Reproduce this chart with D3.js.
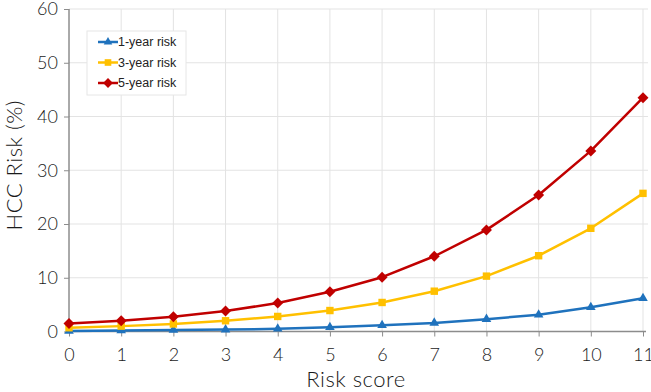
<!DOCTYPE html>
<html>
<head>
<meta charset="utf-8">
<script src="https://cdn.jsdelivr.net/npm/d3@7"></script>
<style>
  body { margin: 0; background: #fff; }
  .tick text { font-family: "Lato", "DejaVu Sans", sans-serif; font-weight: 300; }
</style>
</head>
<body>
<div id="chart"></div>
<script>
var scores = [0, 1, 2, 3, 4, 5, 6, 7, 8, 9, 10, 11];
var risk1 = [0.1, 0.2, 0.3, 0.35, 0.5, 0.8, 1.15, 1.6, 2.3, 3.1, 4.5, 6.2];
var risk3 = [0.7, 1.0, 1.4, 2.0, 2.8, 3.9, 5.4, 7.5, 10.3, 14.1, 19.2, 25.7];
var risk5 = [1.5, 2.0, 2.75, 3.8, 5.3, 7.4, 10.1, 14.0, 18.9, 25.4, 33.6, 43.5];
var yTicks = [0, 10, 20, 30, 40, 50, 60];
var seriesNames = ["1-year risk", "3-year risk", "5-year risk"];

var svgWidth = 651;
var svgHeight = 392;

var margin = { top: 9, right: 8, bottom: 60, left: 69 };
var width = 643 - margin.left;
var height = 331.5 - margin.top;

var svg = d3.select("#chart")
  .append("svg")
  .attr("width", svgWidth)
  .attr("height", svgHeight);

var chartGroup = svg.append("g")
  .attr("transform", `translate(${margin.left}, ${margin.top})`);

var x = d3.scaleLinear().domain([0, 11]).range([0, width]);
var y = d3.scaleLinear().domain([0, 60]).range([height, 0]);

// grid
chartGroup.append("g")
  .selectAll("line")
  .data(yTicks.slice(1))
  .enter().append("line")
  .attr("x1", 0).attr("x2", width + 5)
  .attr("y1", d => y(d)).attr("y2", d => y(d))
  .attr("stroke", "#e3e3e3");

chartGroup.append("g")
  .selectAll("line")
  .data(scores.slice(1))
  .enter().append("line")
  .attr("x1", d => x(d)).attr("x2", d => x(d))
  .attr("y1", 0).attr("y2", height)
  .attr("stroke", "#e3e3e3");

// axes
var bottomAxis = d3.axisBottom(x).tickValues(scores).tickSize(5).tickPadding(12);
var leftAxis = d3.axisLeft(y).tickValues(yTicks).tickSize(5).tickPadding(6);

var xg = chartGroup.append("g")
  .attr("transform", `translate(0, ${height})`)
  .call(bottomAxis);
xg.select(".domain").attr("stroke", "#8c8c8c").attr("stroke-width", 1.5)
  .attr("d", `M0,0H${width + 3}`);
xg.selectAll(".tick line").attr("stroke", "#8c8c8c");
xg.selectAll("text").attr("font-size", "18px").attr("fill", "#1a1a1a");

var yg = chartGroup.append("g").call(leftAxis);
yg.select(".domain").attr("stroke", "#555").attr("d", `M0,0V${height}`);
yg.selectAll(".tick line").attr("stroke", "#8c8c8c");
yg.selectAll("text").attr("font-size", "18px").attr("fill", "#1a1a1a");

// series
var series = [
  { name: seriesNames[0], values: risk1, color: "#1f72bd", symbol: d3.symbolTriangle, size: 40, rot: 0 },
  { name: seriesNames[1], values: risk3, color: "#ffc000", symbol: d3.symbolSquare, size: 55, rot: 0 },
  { name: seriesNames[2], values: risk5, color: "#c00000", symbol: d3.symbolSquare, size: 60, rot: 45 }
];

var line = d3.line()
  .x((d, i) => x(scores[i]))
  .y(d => y(d));

series.forEach(function(s) {
  chartGroup.append("path")
    .datum(s.values)
    .attr("fill", "none")
    .attr("stroke", s.color)
    .attr("stroke-width", 2.5)
    .attr("stroke-linejoin", "round")
    .attr("d", line);

  chartGroup.selectAll(null)
    .data(s.values)
    .enter().append("path")
    .attr("transform", (d, i) => `translate(${x(scores[i])}, ${y(d)}) rotate(${s.rot})`)
    .attr("d", d3.symbol().type(s.symbol).size(s.size))
    .attr("fill", s.color);
});

// legend
var legend = svg.append("g").attr("transform", "translate(87, 31)");
legend.append("rect")
  .attr("width", 99).attr("height", 64)
  .attr("fill", "#fff").attr("stroke", "#e6e6e6");

series.forEach(function(s, i) {
  var row = legend.append("g").attr("transform", `translate(11, ${11 + i * 20.5})`);
  row.append("line").attr("x1", 0).attr("x2", 20)
    .attr("stroke", s.color).attr("stroke-width", 2.5);
  row.append("path")
    .attr("transform", `translate(10, 0) rotate(${s.rot})`)
    .attr("d", d3.symbol().type(s.symbol).size(s.size * 0.8))
    .attr("fill", s.color);
  row.append("text")
    .attr("x", 20).attr("dy", "0.35em")
    .attr("font-family", "Liberation Sans, Arial, sans-serif")
    .attr("font-size", "12.5px")
    .attr("fill", "#222")
    .text(s.name);
});

// axis labels
svg.append("text")
  .attr("transform", `translate(22, ${margin.top + height / 2 - 5}) rotate(-90)`)
  .attr("text-anchor", "middle")
  .attr("font-family", "Lato, DejaVu Sans, sans-serif")
  .attr("font-weight", 300)
  .attr("font-size", "22px")
  .attr("letter-spacing", "0.5px")
  .attr("fill", "#1a1a1a")
  .text("HCC Risk (%)");

svg.append("text")
  .attr("x", margin.left + width / 2)
  .attr("y", 387)
  .attr("text-anchor", "middle")
  .attr("font-family", "Lato, DejaVu Sans, sans-serif")
  .attr("font-weight", 300)
  .attr("font-size", "22px")
  .attr("letter-spacing", "0.5px")
  .attr("fill", "#1a1a1a")
  .text("Risk score");
</script>
</body>
</html>
